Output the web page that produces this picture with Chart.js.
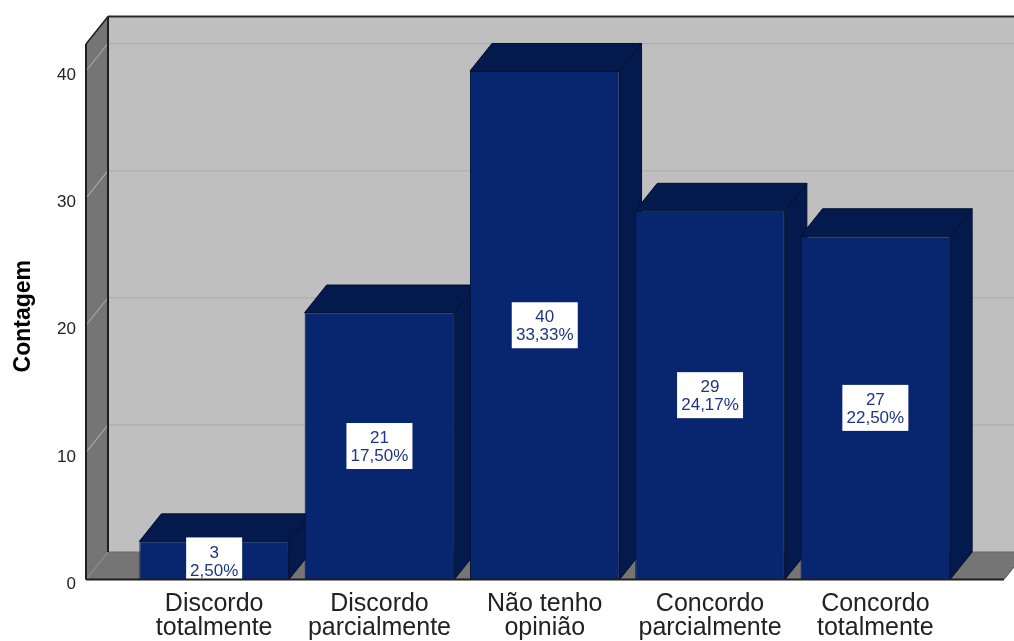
<!DOCTYPE html>
<html><head><meta charset="utf-8">
<style>html,body{margin:0;padding:0;background:#fff;overflow:hidden}canvas{display:block}</style>
<script src="https://cdn.jsdelivr.net/npm/chart.js@4"></script>
</head><body><canvas id="c" width="1014" height="641"></canvas>
<script>
const categories = [["Discordo","totalmente"],["Discordo","parcialmente"],["Não tenho","opinião"],["Concordo","parcialmente"],["Concordo","totalmente"]];
const counts = [3,21,40,29,27];
const percents = ["2,50%","17,50%","33,33%","24,17%","22,50%"];
const yTicks = [0,10,20,30,40];
const DX = 22, DY = -27.5;
const FONT = '"Liberation Sans", Arial, sans-serif';

function poly(ctx, pts, fill, stroke, lw){
  ctx.beginPath();
  pts.forEach((p,i)=> i ? ctx.lineTo(p[0],p[1]) : ctx.moveTo(p[0],p[1]));
  ctx.closePath();
  if(fill){ctx.fillStyle=fill;ctx.fill();}
  if(stroke){ctx.strokeStyle=stroke;ctx.lineWidth=lw||1;ctx.stroke();}
}
function seg(ctx,x1,y1,x2,y2,c,w){
  ctx.beginPath();ctx.moveTo(x1,y1);ctx.lineTo(x2,y2);ctx.strokeStyle=c;ctx.lineWidth=w;ctx.stroke();
}
const box3d = {
  id:'box3d',
  beforeDatasetsDraw(chart){
    const ctx=chart.ctx, y=chart.scales.y;
    const L=86, R=1004, base=y.getPixelForValue(0), top=44;
    const W=chart.width+30;
    ctx.save();
    poly(ctx,[[L+DX,top+DY],[W,top+DY],[W,base+DY],[L+DX,base+DY]],'#bfbfbf');
    poly(ctx,[[L,top],[L+DX,top+DY],[L+DX,base+DY],[L,base]],'#757575');
    poly(ctx,[[L,base],[L+DX,base+DY],[R+DX,base+DY],[R,base]],'#757575');
    yTicks.forEach(v=>{
      const p=y.getPixelForValue(v);
      if(v>0){
        seg(ctx,L+DX,p+DY,W,p+DY,'#b1b1b1',1.5);
        seg(ctx,L,p,L+DX,p+DY,'#a6a6a6',1.2);
      } else {
        seg(ctx,L,p,L+DX,p+DY,'#8f8f8f',1);
      }
    });
    seg(ctx,L+DX,base+DY,W,base+DY,'#6a6a6a',1);
    seg(ctx,L+DX,top+DY,W,top+DY,'#2a2a2a',2);
    seg(ctx,L+DX,top+DY,L+DX,base+DY,'#1e1e1e',2);
    seg(ctx,L,top,L+DX,top+DY,'#1e1e1e',1.5);
    seg(ctx,L,top,L,base,'#1e1e1e',2);
    chart.getDatasetMeta(0).data.forEach(b=>{
      const h=b.width/2, x0=b.x-h, x1=b.x+h, yt=b.y, yb=b.base;
      poly(ctx,[[x1,yt],[x1+DX,yt+DY],[x1+DX,yb+DY],[x1,yb]],'#041a4c','#02102f',1);
      poly(ctx,[[x0,yt],[x0+DX,yt+DY],[x1+DX,yt+DY],[x1,yt]],'#041a4c','#02102f',1);
    });
    ctx.restore();
  },
  afterDatasetsDraw(chart){
    const ctx=chart.ctx, y=chart.scales.y;
    const base=y.getPixelForValue(0);
    ctx.save();
    ctx.font='17px '+FONT;
    ctx.textAlign='center';ctx.textBaseline='middle';
    chart.getDatasetMeta(0).data.forEach((b,i)=>{
      const cy=(b.y+b.base)/2;
      const w=Math.round(ctx.measureText(percents[i]).width)+8;
      const bottom=Math.min(cy+23,base);
      ctx.fillStyle='#ffffff';
      ctx.fillRect(b.x-w/2,cy-23,w,bottom-(cy-23));
      ctx.fillStyle='#1c3585';
      ctx.fillText(String(counts[i]),b.x,cy-7.5);
      ctx.fillText(percents[i],b.x,cy+10.5);
    });
    seg(ctx,86,base,1004,base,'#1e1e1e',2);
    seg(ctx,1004,base,1004+DX,base+DY,'#555555',1);
    ctx.restore();
  }
};
new Chart(document.getElementById('c'),{
  type:'bar',
  data:{labels:categories,datasets:[{
    data:counts,backgroundColor:'#08266f',borderColor:'#031238',borderWidth:1,
    categoryPercentage:1,barPercentage:0.905
  }]},
  options:{
    responsive:false,animation:false,
    layout:{padding:{top:71,right:56,bottom:0,left:0},autoPadding:false},
    plugins:{legend:{display:false},title:{display:false},tooltip:{enabled:false}},
    scales:{
      x:{
        type:'category',
        grid:{display:false},border:{display:false},
        ticks:{color:'#222',font:{family:FONT,size:25,lineHeight:0.96},padding:5,maxRotation:0,autoSkip:false},
        afterFit(s){s.height=61.5;}
      },
      y:{
        min:0,max:40,
        grid:{display:false},border:{display:false},
        ticks:{stepSize:10,color:'#222',font:{family:FONT,size:17},padding:47.5,labelOffset:4.5},
        title:{display:true,text:'Contagem',color:'#000',font:{family:FONT,size:23,weight:'bold'},padding:{top:10,bottom:0}},
        afterFit(s){
          s.width=131.5;
          if(!s._titleShifted){
            s._titleShifted=true;
            const orig=s.drawTitle;
            s.drawTitle=function(){const c=this.ctx;c.save();c.translate(0,-9);orig.call(this);c.restore();};
          }
        }
      }
    }
  },
  plugins:[box3d]
});
</script></body></html>
